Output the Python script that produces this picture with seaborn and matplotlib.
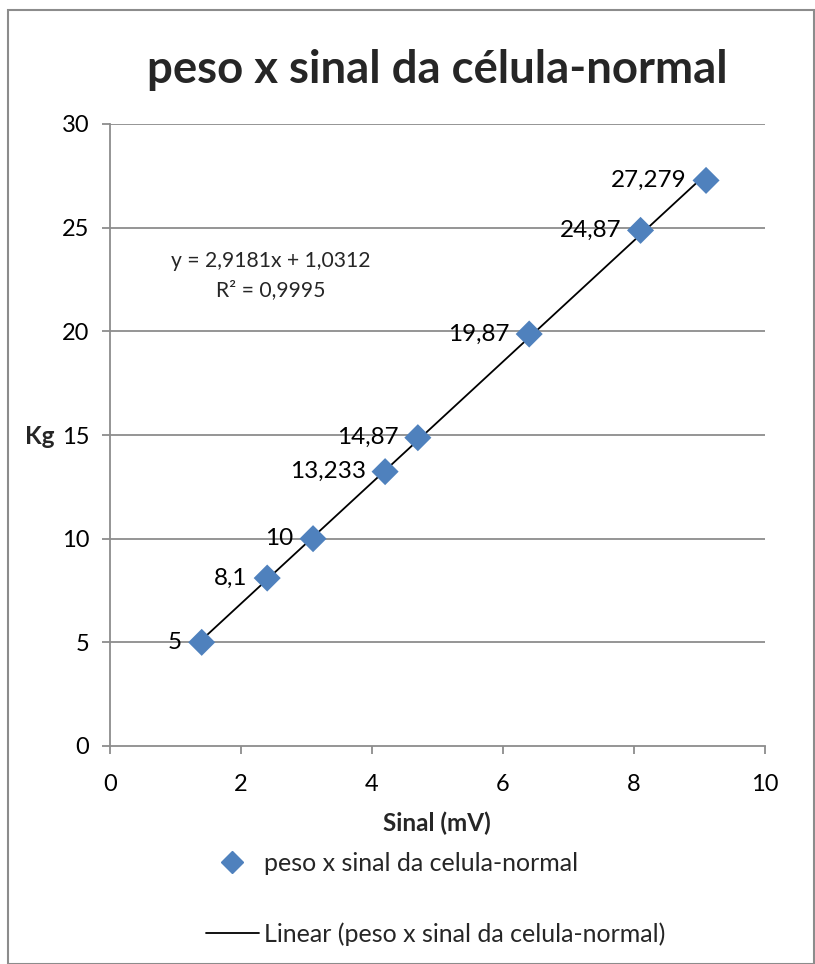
import matplotlib
matplotlib.use("Agg")
import matplotlib.pyplot as plt
import seaborn as sns
import pandas as pd
from matplotlib.lines import Line2D
from matplotlib.patches import Rectangle

sinal = [1.4, 2.4, 3.1, 4.2, 4.7, 6.4, 8.1, 9.1]
peso = [5, 8.1, 10, 13.233, 14.87, 19.87, 24.87, 27.279]
labels = ["5", "8,1", "10", "13,233", "14,87", "19,87", "24,87", "27,279"]
title = "peso x sinal da célula-normal"
series_name = "peso x sinal da celula-normal"
trend_name = "Linear (peso x sinal da celula-normal)"
equation = "y = 2,9181x + 1,0312"
r2 = "R² = 0,9995"
xlabel = "Sinal (mV)"
ylabel = "Kg"

df = pd.DataFrame({"sinal": sinal, "peso": peso})

sns.set_theme(style="white")
plt.rcParams["font.family"] = ["Lato", "DejaVu Sans"]

W, H = 815, 964
fig = plt.figure(figsize=(W / 100, H / 100), dpi=100)
ax = fig.add_axes([110 / W, 1 - 746 / H, 655 / W, 622 / H])

grid_c = "#8c8c8c"
for yv in [5, 10, 15, 20, 25, 30]:
    ax.axhline(yv, color=grid_c, lw=1.3, zorder=0)

sns.regplot(data=df, x="sinal", y="peso", ax=ax, scatter=False, ci=None,
            truncate=True, line_kws={"color": "black", "lw": 1.3, "zorder": 2})
sns.scatterplot(data=df, x="sinal", y="peso", ax=ax, marker="D", s=190,
                color="#4F81BD", edgecolor="none", zorder=3, legend=False)

for xv, yv, lab in zip(sinal, peso, labels):
    ax.annotate(lab, (xv, yv), xytext=(-14, 0), textcoords="offset points",
                ha="right", va="center", fontsize=17.5, color="black")

ax.text(2.45, 23.4, equation, ha="center", va="center", fontsize=15.2)
ax.text(2.45, 22.0, r2, ha="center", va="center", fontsize=15.2)

ax.set_xlim(0, 10)
ax.set_ylim(0, 30)
ax.set_xticks([0, 2, 4, 6, 8, 10])
ax.set_yticks([0, 5, 10, 15, 20, 25, 30])
ax.tick_params(axis="both", labelsize=17, length=6, width=1.3, color=grid_c,
               direction="out", bottom=True, left=True, labelcolor="black")
ax.tick_params(axis="x", pad=14)
ax.tick_params(axis="y", pad=9)
for side in ["top", "right"]:
    ax.spines[side].set_visible(False)
for side in ["left", "bottom"]:
    ax.spines[side].set_color(grid_c)
    ax.spines[side].set_linewidth(1.3)

ax.set_xlabel("")
ax.set_ylabel("")
fig.text(437 / W, 1 - 823 / H, xlabel, ha="center", va="center", fontsize=17.5,
         fontweight="bold")
fig.text(40 / W, 1 - 437 / H, ylabel, ha="center", va="center", fontsize=17.5,
         fontweight="bold")

fig.text(437 / W, 1 - 70 / H, title, ha="center", va="center", fontsize=32.8,
         fontweight="bold")

handles = [
    Line2D([], [], marker="D", color="#4F81BD", linestyle="none", markersize=11),
    Line2D([], [], color="black", lw=1.3),
]
fig.legend(handles, [series_name, trend_name],
           loc="center left", bbox_to_anchor=(206 / W, 1 - 899 / H), frameon=False,
           fontsize=18, handlelength=2.1, handletextpad=0.2, labelspacing=1.9,
           borderaxespad=0, borderpad=0)

fig.patches.append(Rectangle((8 / W, 0), 1 - 8 / W - 0.001, 1 - 10 / H,
                             transform=fig.transFigure, fill=False,
                             edgecolor=grid_c, lw=1.5))

fig.savefig("out.png", dpi=100)
